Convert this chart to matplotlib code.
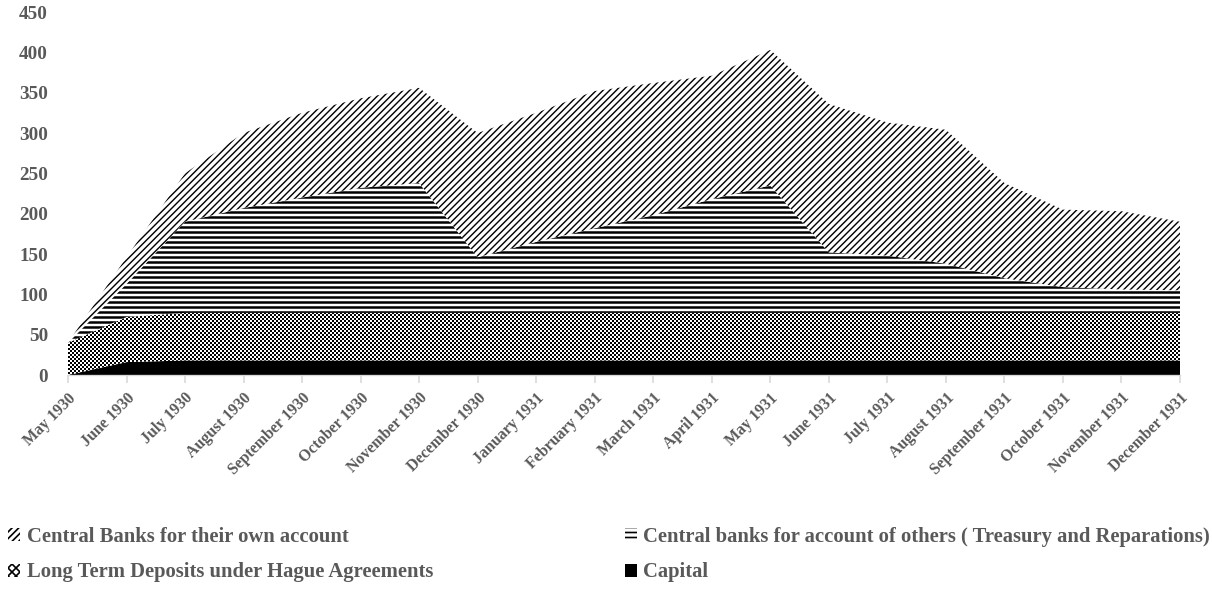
import numpy as np
import matplotlib.pyplot as plt
from matplotlib.patches import Patch

months = ['May 1930', 'June 1930', 'July 1930', 'August 1930', 'September 1930',
          'October 1930', 'November 1930', 'December 1930', 'January 1931',
          'February 1931', 'March 1931', 'April 1931', 'May 1931', 'June 1931',
          'July 1931', 'August 1931', 'September 1931', 'October 1931',
          'November 1931', 'December 1931']

# millions, stacked from the bottom up
capital = [0, 16, 18, 18, 18, 18, 18, 18, 18, 18, 18, 18, 18, 18, 18, 18, 18, 18, 18, 18]
hague = [40, 56, 59, 59, 59, 59, 59, 59, 59, 59, 59, 59, 59, 59, 59, 59, 59, 59, 59, 59]
others = [0, 41, 113, 130, 143, 155, 161, 69, 88, 105, 121, 141, 158, 75, 71, 61, 43, 32, 29, 28]
own = [0, 33, 60, 93, 105, 111, 118, 154, 160, 170, 164, 153, 168, 184, 165, 166, 118, 96, 97, 85]

labels = ['Central Banks for their own account',
          'Central banks for account of others ( Treasury and Reparations)',
          'Long Term Deposits under Hague Agreements',
          'Capital']

TEXT = '#595959'
AXIS = '#d9d9d9'

plt.rcParams['font.family'] = ['Liberation Serif', 'DejaVu Serif']
plt.rcParams['font.weight'] = 'bold'
plt.rcParams['hatch.color'] = 'black'

W, H, DPI = 1212, 590, 120
fig = plt.figure(figsize=(W / DPI, H / DPI), dpi=DPI)
ax = fig.add_axes([68 / W, 215 / H, 1112 / W, 363 / H])

x = np.arange(len(months))
c1 = np.array(capital, dtype=float)
c2 = c1 + hague
c3 = c2 + others
c4 = c3 + own

ax.fill_between(x, 0, c1, facecolor='black', lw=0, zorder=2)

# checkerboard for the Hague deposits, clipped to the band
band = ax.fill_between(x, c1, c2, facecolor='none', lw=0, zorder=2)
rows, cols = 363, 1112
yy, xx = np.indices((rows, cols))
checker = ((yy // 2 + xx // 2) % 2).astype(float)
im = ax.imshow(checker, cmap='gray', vmin=0, vmax=1, extent=(0, len(x) - 1, 0, 450),
               aspect='auto', interpolation='nearest', zorder=2)
im.set_clip_path(band.get_paths()[0], transform=ax.transData)

with plt.rc_context({'hatch.linewidth': 1.5}):
    ax.fill_between(x, c2, c3, facecolor='white', edgecolor='black', hatch='----', lw=0, zorder=2)
with plt.rc_context({'hatch.linewidth': 0.85}):
    ax.fill_between(x, c3, c4, facecolor='white', edgecolor='black', hatch='//////', lw=0, zorder=2)

ax.set_xlim(0, len(x) - 1)
ax.set_ylim(0, 450)
ax.set_yticks(np.arange(0, 451, 50))
ax.set_xticks(x)
ax.set_xticklabels(months, rotation=45, ha='right', rotation_mode='anchor')
ax.tick_params(axis='x', length=5, color=AXIS, width=1, labelcolor=TEXT, labelsize=9.5, pad=4)
ax.tick_params(axis='y', length=0, labelcolor=TEXT, labelsize=11.5, pad=12)
for side in ['top', 'right', 'left']:
    ax.spines[side].set_visible(False)
ax.spines['bottom'].set_color(AXIS)
ax.spines['bottom'].set_zorder(3)

h_own = Patch(facecolor='white', edgecolor='black', hatch='//////', lw=0)
h_oth = Patch(facecolor='white', edgecolor='black', hatch='----', lw=0)
h_hag = Patch(facecolor='white', edgecolor='black', hatch='xxxxx', lw=0)
h_cap = Patch(facecolor='black', lw=0)

leg_kw = dict(frameon=False, handlelength=0.6, handleheight=0.6,
              handletextpad=0.3, labelspacing=0.75, fontsize=12.4, labelcolor=TEXT,
              borderaxespad=0, borderpad=0)
fig.legend([h_own, h_hag], [labels[0], labels[2]], loc='upper left',
           bbox_to_anchor=(8 / W, 1 - 527 / H), **leg_kw)
fig.legend([h_oth, h_cap], [labels[1], labels[3]], loc='upper right',
           bbox_to_anchor=(1210 / W, 1 - 527 / H), **leg_kw)

fig.savefig('out.png', dpi=DPI)
